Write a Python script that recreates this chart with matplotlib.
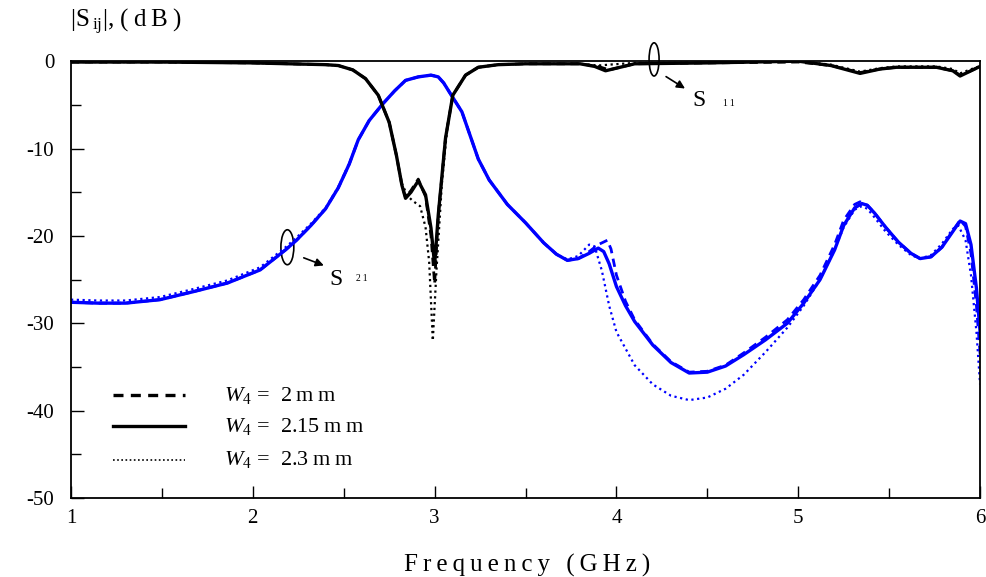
import matplotlib
matplotlib.use("Agg")
import matplotlib.pyplot as plt
from matplotlib.patches import Ellipse
from matplotlib.lines import Line2D
from matplotlib.ticker import MultipleLocator

plt.rcParams["font.family"] = ["Liberation Serif", "DejaVu Serif"]
plt.rcParams["mathtext.fontset"] = "custom"
plt.rcParams["mathtext.rm"] = "Liberation Serif"
plt.rcParams["mathtext.it"] = "Liberation Serif:italic"
plt.rcParams["axes.unicode_minus"] = False

# ---- S21 (transmission), three W4 widths ----
f_s21_200 = [1.0, 1.15, 1.3, 1.49, 1.67, 1.86, 2.04, 2.18, 2.24, 2.32, 2.4, 2.47, 2.53, 2.58, 2.64,
             2.71, 2.78, 2.84, 2.91, 2.98, 3.02, 3.05, 3.08, 3.15, 3.24, 3.3, 3.4, 3.5, 3.6, 3.67,
             3.73, 3.79, 3.85, 3.9, 3.95, 3.97, 4.0, 4.05, 4.1, 4.2, 4.3, 4.4, 4.5, 4.6, 4.7,
             4.82, 4.94, 5.03, 5.12, 5.2, 5.25, 5.31, 5.34, 5.38, 5.42, 5.48, 5.55, 5.62, 5.67,
             5.73, 5.79, 5.85, 5.89, 5.92, 5.95, 5.98, 6.0]
s21_200 = [-27.6, -27.7, -27.7, -27.3, -26.4, -25.4, -23.9, -21.6, -20.5, -18.8, -16.9, -14.5, -11.8,
           -9.0, -6.8, -5.0, -3.4, -2.2, -1.8, -1.6, -1.8, -2.5, -3.5, -5.8, -11.2, -13.6, -16.4,
           -18.5, -20.8, -22.1, -22.8, -22.6, -21.8, -21.0, -20.5, -21.5, -24.5, -27.5, -29.6,
           -32.4, -34.4, -35.6, -35.5, -34.8, -33.4, -31.6, -29.6, -27.3, -24.5, -21.0, -18.2,
           -16.4, -16.1, -16.5, -17.4, -19.0, -20.7, -22.0, -22.6, -22.4, -21.3, -19.4, -18.2,
           -18.9, -22.0, -28.0, -33.5]

f_s21_215 = [1.0, 1.15, 1.3, 1.49, 1.67, 1.86, 2.04, 2.18, 2.24, 2.32, 2.4, 2.47, 2.53, 2.58, 2.64,
             2.71, 2.78, 2.84, 2.91, 2.98, 3.02, 3.05, 3.08, 3.15, 3.24, 3.3, 3.4, 3.5, 3.6, 3.67,
             3.73, 3.79, 3.85, 3.9, 3.93, 3.96, 4.0, 4.05, 4.1, 4.2, 4.3, 4.4, 4.5, 4.6, 4.7,
             4.82, 4.94, 5.03, 5.12, 5.2, 5.25, 5.31, 5.35, 5.38, 5.42, 5.48, 5.55, 5.62, 5.67,
             5.73, 5.79, 5.85, 5.89, 5.92, 5.95, 5.98, 6.0]
s21_215 = [-27.6, -27.7, -27.7, -27.3, -26.4, -25.4, -23.9, -21.6, -20.5, -18.8, -16.9, -14.5, -11.8,
           -9.0, -6.8, -5.0, -3.4, -2.2, -1.8, -1.6, -1.8, -2.5, -3.5, -5.8, -11.2, -13.6, -16.4,
           -18.5, -20.8, -22.1, -22.8, -22.6, -22.0, -21.4, -21.8, -23.2, -25.8, -28.0, -29.8,
           -32.5, -34.5, -35.7, -35.6, -34.9, -33.6, -31.9, -30.0, -27.7, -25.0, -21.6, -18.8,
           -16.8, -16.3, -16.5, -17.4, -19.0, -20.7, -22.0, -22.6, -22.4, -21.3, -19.5, -18.3,
           -18.6, -21.0, -26.0, -31.0]

f_s21_230 = [1.0, 1.15, 1.3, 1.49, 1.67, 1.86, 2.04, 2.18, 2.24, 2.32, 2.4, 2.47, 2.53, 2.58, 2.64,
             2.71, 2.78, 2.84, 2.91, 2.98, 3.02, 3.05, 3.08, 3.15, 3.24, 3.3, 3.4, 3.5, 3.6, 3.67,
             3.73, 3.79, 3.85, 3.88, 3.92, 3.96, 4.0, 4.1, 4.2, 4.3, 4.4, 4.5, 4.6, 4.7,
             4.82, 4.94, 5.03, 5.12, 5.2, 5.25, 5.31, 5.35, 5.38, 5.42, 5.48, 5.55, 5.62, 5.67,
             5.73, 5.79, 5.85, 5.88, 5.92, 5.95, 5.98, 6.0]
s21_230 = [-27.3, -27.4, -27.4, -27.0, -26.1, -25.1, -23.6, -21.3, -20.2, -18.6, -16.8, -14.4, -11.7,
           -9.0, -6.8, -5.0, -3.4, -2.2, -1.8, -1.6, -1.8, -2.5, -3.5, -5.8, -11.2, -13.6, -16.4,
           -18.5, -20.8, -22.1, -22.7, -22.3, -21.0, -21.2, -24.0, -28.0, -31.0, -34.8, -37.0,
           -38.3, -38.8, -38.5, -37.5, -35.9, -33.3, -30.5, -28.0, -25.0, -21.6, -19.0, -17.0,
           -16.6, -16.9, -17.9, -19.5, -21.0, -22.2, -22.6, -22.2, -20.9, -19.2, -18.8, -20.5,
           -24.5, -31.0, -37.0]

# ---- S11 (reflection), three W4 widths ----
f_s11_200 = [1.0, 1.5, 2.0, 2.2, 2.4, 2.47, 2.55, 2.62, 2.69, 2.75, 2.79, 2.82, 2.84, 2.87, 2.91,
             2.95, 2.98, 3.0, 3.02, 3.06, 3.1, 3.17, 3.24, 3.35, 3.5, 3.8, 3.9, 3.96, 4.02, 4.1,
             4.5, 5.0, 5.18, 5.34, 5.45, 5.54, 5.76, 5.85, 5.89, 5.94, 5.98, 6.0]
s11_200 = [-0.1, -0.1, -0.2, -0.3, -0.4, -0.5, -1.0, -2.0, -3.9, -7.0, -10.8, -14.2, -15.6, -14.8,
           -13.5, -15.5, -20.0, -25.5, -17.6, -8.8, -3.9, -1.6, -0.7, -0.4, -0.3, -0.3, -0.6,
           -1.0, -0.7, -0.3, -0.2, -0.1, -0.5, -1.3, -0.9, -0.7, -0.7, -1.1, -1.6, -1.2, -0.8,
           -0.6]

f_s11_215 = [1.0, 1.5, 2.0, 2.2, 2.4, 2.47, 2.55, 2.62, 2.69, 2.75, 2.79, 2.82, 2.84, 2.87, 2.91,
             2.95, 2.98, 3.0, 3.02, 3.06, 3.1, 3.17, 3.24, 3.35, 3.5, 3.8, 3.88, 3.94, 4.0, 4.1,
             4.5, 5.0, 5.18, 5.34, 5.45, 5.54, 5.76, 5.85, 5.89, 5.94, 5.98, 6.0]
s11_215 = [-0.1, -0.1, -0.2, -0.3, -0.4, -0.5, -1.0, -2.0, -3.9, -7.0, -10.8, -14.2, -15.7, -15.0,
           -13.7, -15.3, -19.1, -23.3, -17.6, -8.8, -3.9, -1.6, -0.7, -0.4, -0.3, -0.3, -0.6,
           -1.1, -0.8, -0.3, -0.2, 0.0, -0.5, -1.4, -0.9, -0.7, -0.7, -1.1, -1.7, -1.2, -0.8,
           -0.6]

f_s11_230 = [1.0, 1.5, 2.0, 2.2, 2.4, 2.47, 2.55, 2.62, 2.69, 2.75, 2.79, 2.82, 2.85, 2.88, 2.92,
             2.95, 2.97, 2.99, 3.01, 3.04, 3.07, 3.1, 3.17, 3.24, 3.35, 3.5, 3.8, 3.9, 3.96, 4.1,
             4.5, 5.0, 5.18, 5.34, 5.45, 5.54, 5.76, 5.85, 5.89, 5.94, 5.98, 6.0]
s11_230 = [-0.1, -0.1, -0.2, -0.3, -0.4, -0.5, -1.0, -2.0, -3.9, -7.0, -10.8, -14.0, -15.4, -16.0,
           -16.6, -19.0, -23.0, -32.0, -24.0, -14.0, -7.5, -3.9, -1.6, -0.7, -0.4, -0.3, -0.3,
           -0.5, -0.4, -0.2, -0.2, 0.0, -0.4, -1.2, -0.8, -0.6, -0.6, -0.9, -1.4, -1.0, -0.7,
           -0.6]

x_ticks = [1, 2, 3, 4, 5, 6]
y_ticks = [0, -10, -20, -30, -40, -50]
legend_labels = [r"$W_{4}$ =  2" + "\u2009m\u2009m",
                 r"$W_{4}$ =  2.15" + "\u2009m\u2009m",
                 r"$W_{4}$ =  2.3" + "\u2009m\u2009m"]

blue = "#0000ff"
fig = plt.figure(figsize=(9.86, 5.77), dpi=100)
ax = fig.add_axes([0.072, 0.137, 0.922, 0.757])

ax.plot(f_s21_200, s21_200, color=blue, lw=2.0, ls=(0, (3, 2)))
ax.plot(f_s21_230, s21_230, color=blue, lw=1.6, ls=(0, (1, 1.6)))
ax.plot(f_s21_215, s21_215, color=blue, lw=2.4, ls="-")

ax.plot(f_s11_200, s11_200, color="black", lw=2.0, ls=(0, (3, 2)))
ax.plot(f_s11_230, s11_230, color="black", lw=1.6, ls=(0, (1, 1.6)))
ax.plot(f_s11_215, s11_215, color="black", lw=2.4, ls="-")

ax.set_xlim(1, 6)
ax.set_ylim(-50, 0)
ax.set_xticks(x_ticks)
ax.set_yticks(y_ticks)
ax.xaxis.set_minor_locator(MultipleLocator(0.5))
ax.yaxis.set_minor_locator(MultipleLocator(5))
ax.tick_params(axis="both", which="both", direction="in", labelsize=15, width=1.0)
ax.tick_params(axis="both", which="major", length=9)
ax.tick_params(axis="both", which="minor", length=7)
ax.tick_params(axis="x", pad=8)
ax.tick_params(axis="y", pad=12)
for s in ax.spines.values():
    s.set_linewidth(1.3)

fig.text(527 / 986, 1 - 565 / 577, "\u2009".join("Frequency (GHz)"), fontsize=18,
         ha="center", va="center")
fig.text(0.071, 0.962, r"$|\mathrm{S}\,_{\mathrm{ij}}|$" + ", (\u2009d\u2009B\u2009)",
         fontsize=18, ha="left", va="center")

# S11 marker
ax.add_patch(Ellipse((4.207, 0.2), 0.055, 3.8, fill=False, ec="black", lw=1.2, clip_on=False))
ax.annotate("", xy=(4.39, -3.3), xytext=(4.26, -1.6),
            arrowprops=dict(arrowstyle="-|>", color="black", lw=1.2, mutation_scale=12))
ax.text(4.42, -4.5, "S", fontsize=17, ha="left", va="center")
ax.text(4.585, -4.8, "1\u20091", fontsize=7, ha="left", va="center")

# S21 marker
ax.add_patch(Ellipse((2.19, -21.3), 0.071, 4.0, fill=False, ec="black", lw=1.2))
ax.annotate("", xy=(2.405, -23.5), xytext=(2.266, -22.4),
            arrowprops=dict(arrowstyle="-|>", color="black", lw=1.2, mutation_scale=12))
ax.text(2.42, -25.0, "S", fontsize=17, ha="left", va="center")
ax.text(2.57, -24.9, "2\u20091", fontsize=7, ha="left", va="center")

# legend drawn in axes coordinates
styles = [dict(lw=2.4, ls=(0, (3, 2.2))), dict(lw=2.4, ls="-"), dict(lw=1.2, ls=(0, (1, 1.5)))]
rows_y = [0.235, 0.164, 0.088]
for st, yy, lab in zip(styles, rows_y, legend_labels):
    ax.add_line(Line2D([0.046, 0.125], [yy, yy], transform=ax.transAxes, color="black", **st))
    ax.text(0.168, yy, lab, transform=ax.transAxes, fontsize=16, ha="left", va="center")

fig.savefig("out.png", dpi=100)
